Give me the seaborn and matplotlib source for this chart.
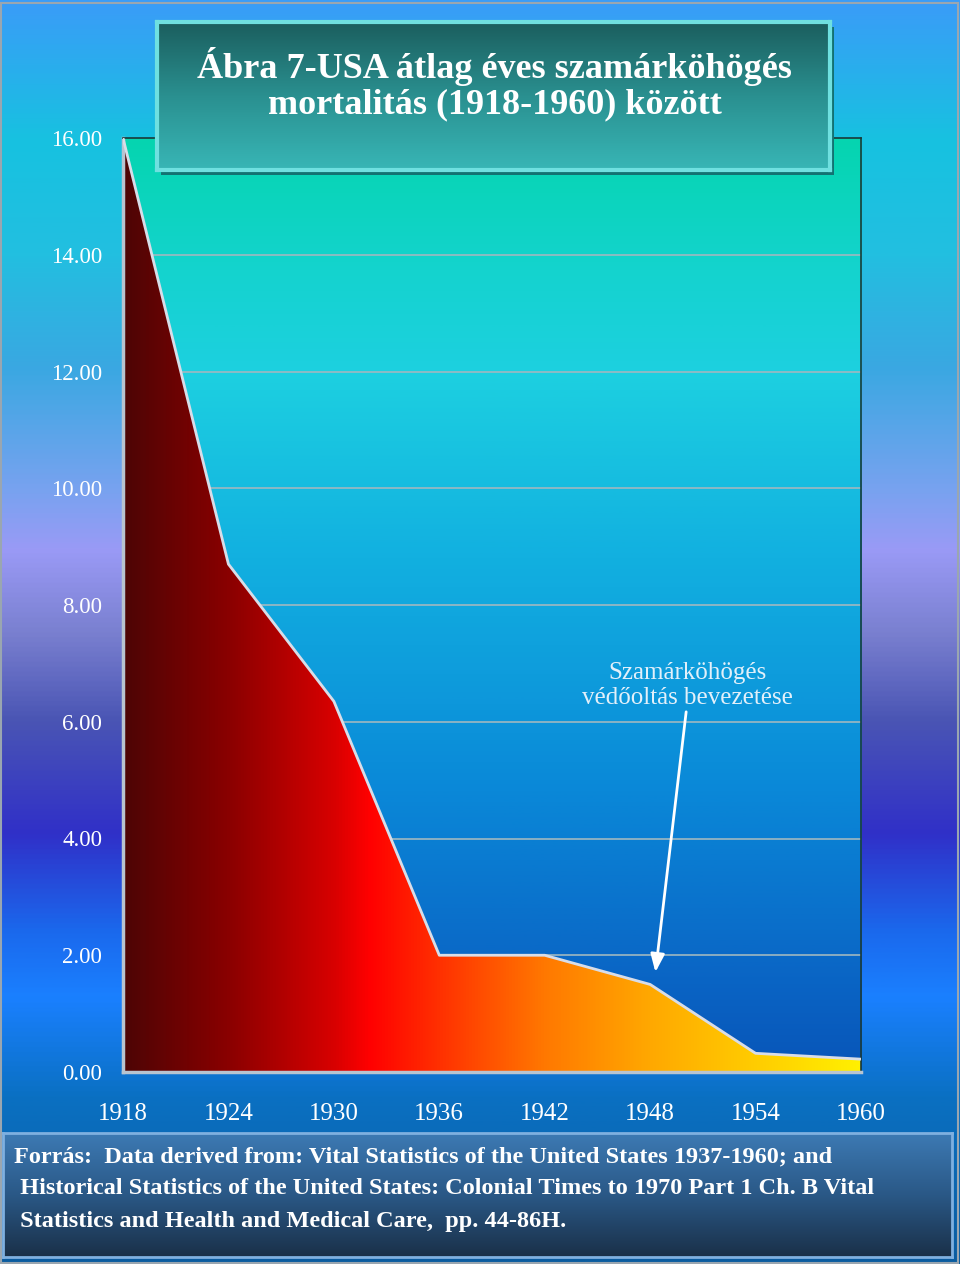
import numpy as np
import pandas as pd
import matplotlib
matplotlib.use("Agg")
import matplotlib.pyplot as plt
import seaborn as sns
from matplotlib.colors import LinearSegmentedColormap
from matplotlib.patches import Rectangle

# ---- data ----
years = [1918, 1924, 1930, 1936, 1942, 1948, 1954, 1960]
mortality = [16.0, 8.7, 6.35, 2.0, 2.0, 1.5, 0.32, 0.22]
y_ticks = [0, 2, 4, 6, 8, 10, 12, 14, 16]
title_text = "Ábra 7-USA átlag éves szamárköhögés\nmortalitás (1918-1960) között"
annot_text = "Szamárköhögés\nvédőoltás bevezetése"
annot_text_pos = (1950.1, 6.62)
arrow_start = (1950.05, 6.17)
arrow_end = (1948.3, 1.71)
source_lines = [
    "Forrás:  Data derived from: Vital Statistics of the United States 1937-1960; and",
    " Historical Statistics of the United States: Colonial Times to 1970 Part 1 Ch. B Vital",
    " Statistics and Health and Medical Care,  pp. 44-86H.",
]

df = pd.DataFrame({"year": years, "value": mortality})

sns.set_theme(style="white")
plt.rcParams["font.family"] = ["Liberation Serif", "DejaVu Serif"]

W, H = 960, 1264
fig = plt.figure(figsize=(W / 100, H / 100), dpi=100)

def vgrad(stops):
    return LinearSegmentedColormap.from_list("g", stops)

# ---- figure background ----
bg = fig.add_axes([0, 0, 1, 1], zorder=0)
bg_cmap = vgrad([
    (0.0, "#3a9cf8"), (0.11, "#17c2e0"), (0.2, "#22bfe0"), (0.29, "#3aa8e2"),
    (0.39, "#7aa2f0"), (0.435, "#9a9af6"), (0.5, "#7a80d0"), (0.57, "#4a55b4"),
    (0.66, "#3030c8"), (0.74, "#1a6aee"), (0.79, "#1a80ff"), (0.87, "#0a70c2"),
    (1.0, "#0a5ca0"),
])
bg.imshow(np.linspace(0, 1, 512).reshape(-1, 1), cmap=bg_cmap, aspect="auto",
          extent=[0, 1, 0, 1], origin="upper")
bg.add_patch(Rectangle((0.001, 0.001), 0.997, 0.997, fill=False, ec="#9aa6b0", lw=1.5,
                       transform=bg.transAxes))
bg.set_xlim(0, 1); bg.set_ylim(0, 1)
bg.axis("off")

# ---- main axes ----
ax = fig.add_axes([123 / W, 1 - 1072 / H, 738 / W, (1072 - 138) / H], zorder=2)
ax.set_xlim(1918, 1960)
ax.set_ylim(0, 16)
plot_cmap = vgrad([
    (0.0, "#05d5b0"), (0.15, "#15d3d0"), (0.25, "#1dd0e0"), (0.45, "#12b0e0"),
    (0.7, "#0a88d8"), (0.9, "#0a65c5"), (1.0, "#0855b8"),
])
ax.imshow(np.linspace(0, 1, 512).reshape(-1, 1), cmap=plot_cmap, aspect="auto",
          extent=[0, 1, 0, 1], origin="upper", transform=ax.transAxes, zorder=0)

for t in y_ticks[1:-1]:
    ax.axhline(t, color="#9fb8c0", lw=1.2, zorder=1)

# area with horizontal gradient
poly = ax.fill_between(df["year"], df["value"], 0, color="none", zorder=2)
area_cmap = vgrad([
    (0.0, "#4d0505"), (6 / 42, "#8a0000"), (12 / 42, "#d80000"), (14 / 42, "#ff0000"),
    (18 / 42, "#ff3000"), (24 / 42, "#ff7800"), (30 / 42, "#ffa800"), (36 / 42, "#ffcc00"),
    (1.0, "#fff000"),
])
img = ax.imshow(np.linspace(0, 1, 512).reshape(1, -1), cmap=area_cmap, aspect="auto",
                extent=[1918, 1960, 0, 16], origin="lower", zorder=2)
img.set_clip_path(poly.get_paths()[0], transform=ax.transData)
ax.set_xlim(1918, 1960)
ax.set_ylim(0, 16)

sns.lineplot(data=df, x="year", y="value", ax=ax, color="#d8dde8", lw=2, zorder=3)

ax.set_xticks(years)
ax.set_yticks(y_ticks)
ax.set_yticklabels([f"{v:.2f}" for v in y_ticks])
ax.set_xlabel(""); ax.set_ylabel("")
ax.tick_params(axis="both", length=0, colors="white")
ax.tick_params(axis="y", pad=15, labelsize=16.5)
ax.tick_params(axis="x", pad=22, labelsize=18)
for s in ["top", "right"]:
    ax.spines[s].set_color("#1a3a3a"); ax.spines[s].set_linewidth(1.2)
for s in ["left", "bottom"]:
    ax.spines[s].set_color("#b8c4d0"); ax.spines[s].set_linewidth(2.5)

# annotation
ax.text(*annot_text_pos, annot_text, ha="center", va="center", color="#e2f0fa",
        fontsize=18, linespacing=1.2, zorder=5)
ax.annotate("", xy=arrow_end, xytext=arrow_start,
            arrowprops=dict(arrowstyle="-|>,head_length=0.9,head_width=0.35",
                            color="white", lw=2, shrinkA=0, shrinkB=0),
            zorder=5)

# ---- title box shadow ----
shax = fig.add_axes([161 / W, 1 - 175 / H, (830 - 157) / W, (170 - 22) / H], zorder=3)
shax.set_facecolor("#137272"); shax.set_xticks([]); shax.set_yticks([])
for s in shax.spines.values():
    s.set_visible(False)

# ---- title box ----
tb = fig.add_axes([157 / W, 1 - 170 / H, (830 - 157) / W, (170 - 22) / H], zorder=4)
title_cmap = vgrad([(0.0, "#1b5e5e"), (0.5, "#2a9090"), (1.0, "#38b6b6")])
tb.imshow(np.linspace(0, 1, 256).reshape(-1, 1), cmap=title_cmap, aspect="auto",
          extent=[0, 1, 0, 1], origin="upper")
tb.set_xlim(0, 1); tb.set_ylim(0, 1)
tb.set_xticks([]); tb.set_yticks([])
for s in tb.spines.values():
    s.set_color("#6fe0e0"); s.set_linewidth(3)
tb.text(0.502, (170 - 84) / 148, title_text, ha="center", va="center", color="white",
        fontsize=26, fontweight="bold", linespacing=1.1, transform=tb.transAxes)

# ---- footer box ----
fb = fig.add_axes([3 / W, 1 - 1257 / H, 949 / W, (1257 - 1133) / H], zorder=4)
foot_cmap = vgrad([(0.0, "#3d7ab4"), (0.5, "#2a5886"), (1.0, "#1a3048")])
fb.imshow(np.linspace(0, 1, 256).reshape(-1, 1), cmap=foot_cmap, aspect="auto",
          extent=[0, 1, 0, 1], origin="upper")
fb.set_xlim(0, 1); fb.set_ylim(0, 1)
fb.set_xticks([]); fb.set_yticks([])
for s in fb.spines.values():
    s.set_color("#7fb0e0"); s.set_linewidth(2)
ys = [1157, 1189, 1221]
for line, yy in zip(source_lines, ys):
    fb.text(11 / 949, (1257 - yy) / 124, line, ha="left", va="center", color="white",
            fontsize=17.5, fontweight="bold", transform=fb.transAxes)

fig.savefig("out.png", dpi=100)
